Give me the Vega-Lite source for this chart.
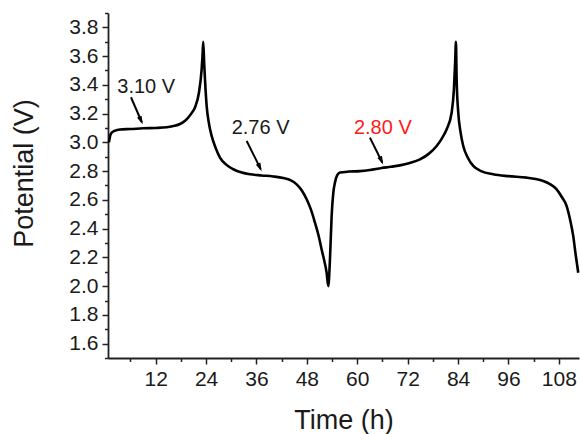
{
  "$schema": "https://vega.github.io/schema/vega-lite/v6.json",
  "width": 471,
  "height": 345,
  "autosize": {"type": "none"},
  "padding": {"left": 108, "top": 13, "right": 1, "bottom": 76},
  "background": "white",
  "config": {
    "view": {"stroke": null},
    "font": "Liberation Sans",
    "axis": {"grid": false, "domainColor": "#222222", "tickColor": "#222222", "labelColor": "#1a1a1a", "titleColor": "#1a1a1a", "labelFont": "Liberation Sans", "titleFont": "Liberation Sans", "titleFontWeight": "normal"}
  },
  "datasets": {
    "curve": [
      {"t": 0.88, "V": 3.0}, {"t": 1.2, "V": 3.05}, {"t": 1.6, "V": 3.07}, {"t": 2.2, "V": 3.08}, {"t": 3.5, "V": 3.09},
      {"t": 6.0, "V": 3.093}, {"t": 9.05, "V": 3.098}, {"t": 12.0, "V": 3.1}, {"t": 14.62, "V": 3.105}, {"t": 16.5, "V": 3.115},
      {"t": 17.79, "V": 3.128}, {"t": 19.0, "V": 3.15}, {"t": 19.76, "V": 3.173}, {"t": 20.6, "V": 3.205}, {"t": 21.36, "V": 3.243},
      {"t": 22.31, "V": 3.347}, {"t": 22.95, "V": 3.51}, {"t": 23.15, "V": 3.6}, {"t": 23.33, "V": 3.7}, {"t": 23.55, "V": 3.55},
      {"t": 23.74, "V": 3.44}, {"t": 24.14, "V": 3.254}, {"t": 24.7, "V": 3.13}, {"t": 25.33, "V": 3.045}, {"t": 26.3, "V": 2.96},
      {"t": 27.31, "V": 2.894}, {"t": 28.8, "V": 2.845}, {"t": 30.48, "V": 2.813}, {"t": 32.5, "V": 2.79}, {"t": 34.45, "V": 2.778},
      {"t": 37.24, "V": 2.77}, {"t": 40.0, "V": 2.763}, {"t": 42.38, "V": 2.752}, {"t": 44.2, "V": 2.735}, {"t": 45.57, "V": 2.708},
      {"t": 46.8, "V": 2.665}, {"t": 47.95, "V": 2.604}, {"t": 49.0, "V": 2.53}, {"t": 49.93, "V": 2.441}, {"t": 50.8, "V": 2.35},
      {"t": 51.52, "V": 2.255}, {"t": 52.2, "V": 2.17}, {"t": 52.71, "V": 2.093}, {"t": 53.1, "V": 2.0}, {"t": 53.5, "V": 2.185},
      {"t": 53.9, "V": 2.487}, {"t": 54.3, "V": 2.65}, {"t": 54.69, "V": 2.72}, {"t": 55.2, "V": 2.77}, {"t": 55.88, "V": 2.79},
      {"t": 58.0, "V": 2.797}, {"t": 60.64, "V": 2.8}, {"t": 63.0, "V": 2.808}, {"t": 65.81, "V": 2.822}, {"t": 68.0, "V": 2.83},
      {"t": 70.17, "V": 2.84}, {"t": 72.5, "V": 2.857}, {"t": 74.93, "V": 2.882}, {"t": 77.0, "V": 2.92}, {"t": 78.9, "V": 2.975},
      {"t": 80.2, "V": 3.03}, {"t": 81.29, "V": 3.091}, {"t": 82.48, "V": 3.208}, {"t": 83.02, "V": 3.37}, {"t": 83.3, "V": 3.55},
      {"t": 83.5, "V": 3.7}, {"t": 83.66, "V": 3.44}, {"t": 84.05, "V": 3.208}, {"t": 84.6, "V": 3.07}, {"t": 85.24, "V": 2.975},
      {"t": 86.3, "V": 2.895}, {"t": 87.62, "V": 2.836}, {"t": 89.5, "V": 2.8}, {"t": 92.38, "V": 2.778}, {"t": 96.0, "V": 2.765},
      {"t": 100.33, "V": 2.755}, {"t": 102.5, "V": 2.745}, {"t": 104.29, "V": 2.731}, {"t": 106.0, "V": 2.708}, {"t": 107.48, "V": 2.673},
      {"t": 108.7, "V": 2.62}, {"t": 109.86, "V": 2.557}, {"t": 110.7, "V": 2.46}, {"t": 111.43, "V": 2.348}, {"t": 112.0, "V": 2.22},
      {"t": 112.62, "V": 2.093}
    ],
    "arrows": [
      {"t1": 6.12, "v1": 3.314, "t2": 8.7, "v2": 3.14},
      {"t1": 33.67, "v1": 3.01, "t2": 37.0, "v2": 2.815},
      {"t1": 63.02, "v1": 3.033, "t2": 65.95, "v2": 2.86}
    ],
    "heads": [
      {"t": 8.52, "v": 3.152},
      {"t": 36.81, "v": 2.826},
      {"t": 65.76, "v": 2.873}
    ],
    "labels": [
      {"label": "3.10 V", "t": 2.86, "v": 3.342},
      {"label": "2.76 V", "t": 30.1, "v": 3.056},
      {"label": "2.80 V", "t": 59.2, "v": 3.056}
    ]
  },
  "resolve": {"axis": {"x": "independent", "y": "independent"}},
  "layer": [
    {
      "data": {"name": "curve"},
      "mark": {"type": "line", "interpolate": "monotone", "color": "black", "strokeWidth": 2.6},
      "encoding": {
        "x": {
          "field": "t", "type": "quantitative",
          "scale": {"domain": [0.65, 112.8], "nice": false, "zero": false},
          "axis": {
            "orient": "bottom", "values": [12, 24, 36, 48, 60, 72, 84, 96, 108],
            "title": "Time (h)", "titleFontSize": 27, "titleX": 235.5, "titleY": 70, "titleBaseline": "alphabetic", "titleAnchor": null,
            "labelFontSize": 21, "labelPadding": 4, "tickSize": 6, "tickWidth": 1.5, "domainWidth": 1.8, "labelFlush": false, "labelOverlap": false
          }
        },
        "y": {
          "field": "V", "type": "quantitative",
          "scale": {"domain": [1.5, 3.9], "nice": false, "zero": false},
          "axis": {
            "orient": "left", "values": [1.6, 1.8, 2.0, 2.2, 2.4, 2.6, 2.8, 3.0, 3.2, 3.4, 3.6, 3.8], "format": ".1f",
            "title": "Potential (V)", "titleFontSize": 27, "titleAngle": 270, "titleX": -76, "titleY": 160, "titleAlign": "center", "titleBaseline": "alphabetic",
            "labelFontSize": 21, "labelPadding": 4, "tickSize": 6, "tickWidth": 1.5, "domainWidth": 1.8, "labelFlush": false, "labelOverlap": false
          }
        }
      }
    },
    {
      "data": {"name": "curve"},
      "mark": {"type": "line", "opacity": 0},
      "encoding": {
        "x": {
          "field": "t", "type": "quantitative",
          "scale": {"domain": [0.65, 112.8], "nice": false, "zero": false},
          "axis": {"orient": "bottom", "values": [6, 18, 30, 42, 54, 66, 78, 90, 102], "labels": false, "title": null, "domain": false, "tickSize": 3.5, "tickWidth": 1.5}
        },
        "y": {
          "field": "V", "type": "quantitative",
          "scale": {"domain": [1.5, 3.9], "nice": false, "zero": false},
          "axis": {"orient": "left", "values": [1.5, 1.7, 1.9, 2.1, 2.3, 2.5, 2.7, 2.9, 3.1, 3.3, 3.5, 3.7, 3.9], "labels": false, "title": null, "domain": false, "tickSize": 3.5, "tickWidth": 1.5}
        }
      }
    },
    {
      "data": {"name": "arrows"},
      "mark": {"type": "rule", "color": "black", "strokeWidth": 2},
      "encoding": {
        "x": {"field": "t1", "type": "quantitative", "scale": {"domain": [0.65, 112.8], "nice": false, "zero": false}, "axis": null},
        "y": {"field": "v1", "type": "quantitative", "scale": {"domain": [1.5, 3.9], "nice": false, "zero": false}, "axis": null},
        "x2": {"field": "t2"},
        "y2": {"field": "v2"}
      }
    },
    {
      "data": {"name": "heads"},
      "mark": {"type": "point", "shape": "M0,-1L0.6,1L-0.6,1Z", "filled": true, "color": "black", "opacity": 1, "size": 70, "angle": 155},
      "encoding": {
        "x": {"field": "t", "type": "quantitative", "scale": {"domain": [0.65, 112.8], "nice": false, "zero": false}, "axis": null},
        "y": {"field": "v", "type": "quantitative", "scale": {"domain": [1.5, 3.9], "nice": false, "zero": false}, "axis": null}
      }
    },
    {
      "data": {"name": "labels"},
      "mark": {"type": "text", "align": "left", "baseline": "alphabetic", "fontSize": 20, "font": "Liberation Sans"},
      "encoding": {
        "x": {"field": "t", "type": "quantitative", "scale": {"domain": [0.65, 112.8], "nice": false, "zero": false}, "axis": null},
        "y": {"field": "v", "type": "quantitative", "scale": {"domain": [1.5, 3.9], "nice": false, "zero": false}, "axis": null},
        "text": {"field": "label"},
        "color": {"condition": {"test": "datum.label === '2.80 V'", "value": "#ff1a1a"}, "value": "#1a1a1a"}
      }
    }
  ]
}
